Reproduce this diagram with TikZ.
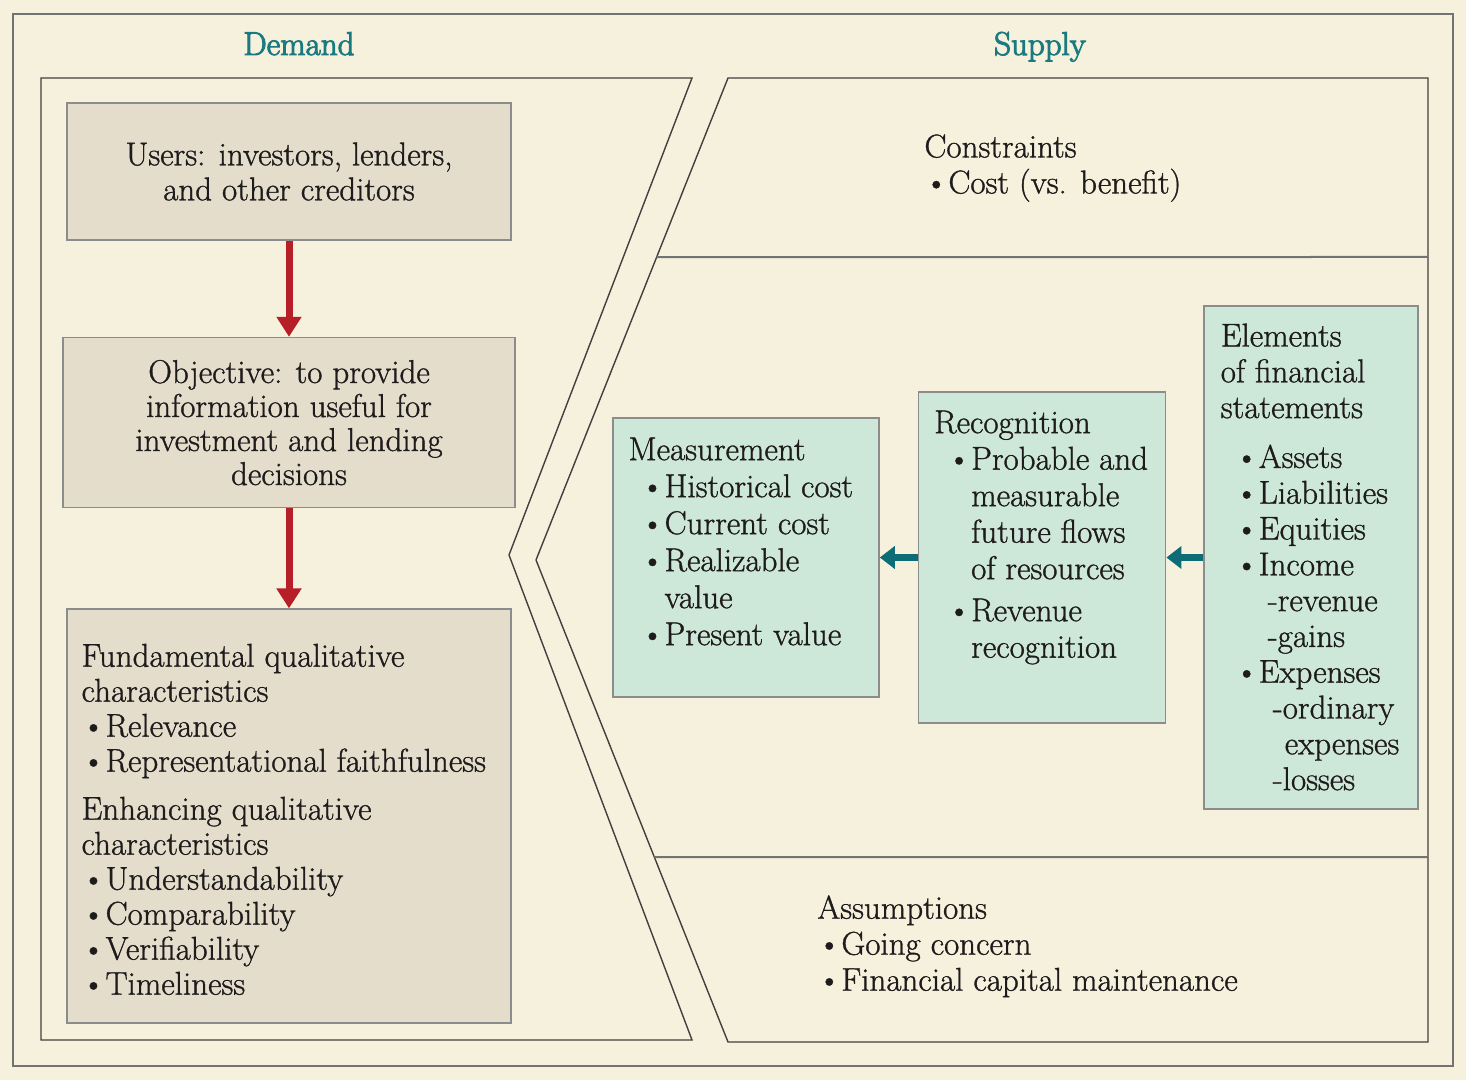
\documentclass[tikz,border=0pt]{standalone}
\usepackage{fontspec}
\setmainfont{Latin Modern Roman}[FakeBold=1]
\newfontfamily\headfont{Latin Modern Roman}[FakeBold=3]
\usepackage{tikz}
\usetikzlibrary{arrows.meta,positioning,calc}
\definecolor{cream}{RGB}{245,241,221}
\definecolor{sand}{RGB}{228,221,203}
\definecolor{mint}{RGB}{205,231,216}
\definecolor{tealtxt}{RGB}{27,122,128}
\definecolor{tealarr}{RGB}{14,108,118}
\definecolor{redarr}{RGB}{182,30,40}
\definecolor{ink}{RGB}{30,27,28}
\newlength\px \setlength\px{0.5pt}
\newcommand{\bl}{\makebox[12pt][l]{\textbullet}}
\newcommand{\ind}[1]{\hspace*{#1}}

\begin{document}
\begin{tikzpicture}[x=1\px,y=-1\px,
  font=\fontsize{16.5}{18}\selectfont, text=ink,
  frame/.style={draw=black!55,line width=1.2pt},
  panel/.style={draw=black!75,line width=0.7pt},
  divide/.style={draw=black!55,line width=1pt},
  sandbox/.style={draw=black!45,fill=sand,line width=0.8pt,inner sep=0pt},
  mintbox/.style={draw=black!45,fill=mint,line width=0.8pt,inner sep=0pt},
  txt/.style={anchor=north west,align=left,inner sep=0pt},
  head/.style={text=tealtxt,anchor=base,inner sep=0pt,font=\headfont\fontsize{16.5}{18}\selectfont},
  down/.style={-{Triangle[width=12pt,length=10pt]},line width=3.5pt,draw=redarr},
  flow/.style={-{Triangle[width=11pt,length=7.5pt]},line width=3.5pt,draw=tealarr}]
% background and frames
\fill[cream] (0,0) rectangle (1466,1080);
\draw[frame] (13,14) rectangle (1453,1066);
\draw[panel] (41,78) -- (692,78) -- (509,555) -- (692,1040) -- (41,1040) -- cycle;
\coordinate (stl) at (728,78);
\coordinate (sti) at (536,560);
\coordinate (sbl) at (728,1042);
\draw[panel] (stl) -- (1428,78) -- (1428,1042) -- (sbl) -- (sti) -- cycle;
\draw[divide] ($(stl)!0.3714!(sti)$) -- (1428,257);
\draw[divide] ($(sti)!0.6162!(sbl)$) -- (1428,857);
\node[head] (dem) at (299,55) {Demand};
\node[head] (sup) at (1040,55) {Supply};
% demand column
\node[sandbox,minimum width=444\px,minimum height=137\px,align=center,
      font=\fontsize{16.5}{17.5}\selectfont] (users) at (289,171.5)
  {Users: investors, lenders,\\and other creditors};
\node[sandbox,minimum width=452\px,minimum height=170\px,align=center,
      font=\fontsize{16.5}{17}\selectfont,below=48pt of users] (obj)
  {Objective: to provide\\information useful for\\investment and lending\\decisions};
\node[sandbox,minimum width=444\px,minimum height=414\px,below=50pt of obj] (qual) {};
\node[txt,font=\fontsize{16.5}{17.5}\selectfont] (qualtxt) at ($(qual.north west)+(15,35)$)
  {Fundamental qualitative\\characteristics\\\bl Relevance\\\bl Representational faithfulness\\[6.5pt]%
   Enhancing qualitative\\characteristics\\\bl Understandability\\\bl Comparability\\%
   \bl Verifiability\\\bl Timeliness};
\draw[down] (users) -- (obj);
\draw[down] (obj) -- (qual);
% supply column
\node[txt] (cons) at (924,134) {Constraints\\\bl Cost (vs. benefit)};
\node[txt] (assum) at (817,895)
  {Assumptions\\\bl Going concern\\\bl Financial capital maintenance};
\node[mintbox,minimum width=266\px,minimum height=279\px] (meas) at (746,557.5) {};
\node[mintbox,minimum width=247\px,minimum height=331\px,right=19pt of meas] (recog) {};
\node[mintbox,minimum width=214\px,minimum height=503\px,right=18.5pt of recog] (elem) {};
\node[txt,font=\fontsize{16.5}{18.5}\selectfont] (meastxt) at ($(meas.north west)+(16,20)$)
  {Measurement\\\ind{6pt}\bl Historical cost\\\ind{6pt}\bl Current cost\\%
   \ind{6pt}\bl Realizable\\\ind{18pt}value\\\ind{6pt}\bl Present value};
\node[txt,font=\fontsize{16.5}{18.25}\selectfont] (recogtxt) at ($(recog.north west)+(16,19)$)
  {Recognition\\\ind{6.5pt}\bl Probable and\\\ind{18.5pt}measurable\\\ind{18.5pt}future flows\\%
   \ind{18.5pt}of resources\\[2.75pt]\ind{6.5pt}\bl Revenue\\\ind{18.5pt}recognition};
\node[txt,font=\fontsize{16.5}{17.9}\selectfont] (elemtxt) at ($(elem.north west)+(17,18)$)
  {Elements\\of financial\\statements\\[7pt]\ind{7pt}\bl Assets\\\ind{7pt}\bl Liabilities\\%
   \ind{7pt}\bl Equities\\\ind{7pt}\bl Income\\\ind{23.5pt}-revenue\\\ind{23.5pt}-gains\\%
   \ind{7pt}\bl Expenses\\\ind{26pt}-ordinary\\\ind{32pt}expenses\\\ind{26pt}-losses};
\draw[flow] (recog) -- (meas);
\draw[flow] (elem) -- (recog);
\end{tikzpicture}
\end{document}
